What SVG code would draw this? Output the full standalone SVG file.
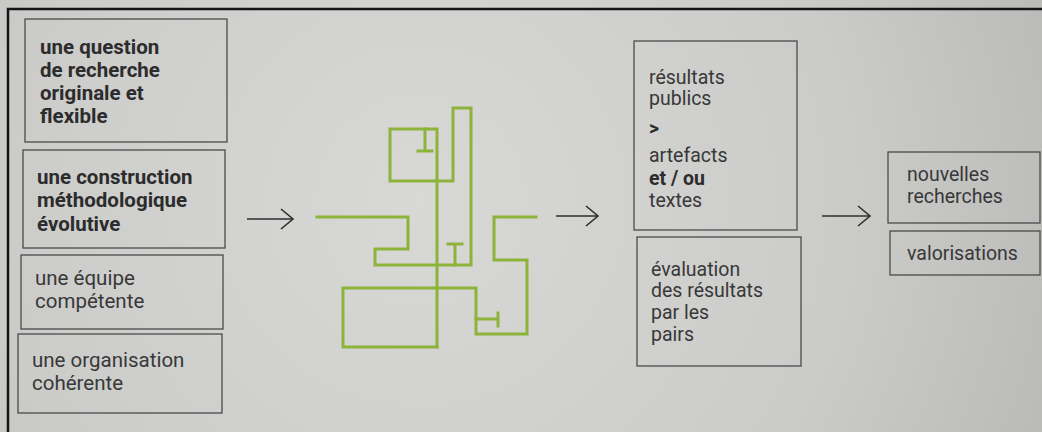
<svg xmlns="http://www.w3.org/2000/svg" width="1042" height="432" viewBox="0 0 1042 432">
  <defs>
    <radialGradient id="paper" cx="420" cy="200" r="720" gradientUnits="userSpaceOnUse">
      <stop offset="0" stop-color="#d8d8d6"/>
      <stop offset="0.6" stop-color="#cbcbc9"/>
      <stop offset="1" stop-color="#b6b6b4"/>
    </radialGradient>
    <marker id="chev" markerUnits="userSpaceOnUse" markerWidth="16" markerHeight="24" refX="13" refY="11" orient="auto">
      <path d="M1,1 L13,11 L1,21" fill="none" stroke="#2e2e2e" stroke-width="1.6"/>
    </marker>
  </defs>
  <style>
    .box { fill: none; stroke: #4b4b4b; stroke-width: 1.3; }
    .t { font-family: Roboto, "Liberation Sans", sans-serif; fill: #383838; }
    .l { font-size: 20.5px; }
    .r { font-size: 19.5px; }
    .b { font-weight: bold; fill: #2c2c2c; }
    .maze { fill: none; stroke: #8db43a; stroke-width: 3; stroke-linecap: square; stroke-linejoin: miter; }
    .arrow { stroke: #2e2e2e; stroke-width: 1.6; fill: none; marker-end: url(#chev); }
  </style>

  <!-- paper and frame -->
  <rect x="0" y="0" width="1042" height="432" fill="url(#paper)"/>
  <path d="M8,432 V9 H1042" fill="none" stroke="#151515" stroke-width="2.5"/>

  <!-- inputs -->
  <g id="question">
    <rect class="box" x="25" y="19" width="202" height="123"/>
    <text class="t l b" x="40" y="54">une question</text>
    <text class="t l b" x="40" y="77">de recherche</text>
    <text class="t l b" x="40" y="100">originale et</text>
    <text class="t l b" x="40" y="123">flexible</text>
  </g>
  <g id="construction">
    <rect class="box" x="23" y="150" width="202" height="98"/>
    <text class="t l b" x="37" y="184">une construction</text>
    <text class="t l b" x="37" y="207">méthodologique</text>
    <text class="t l b" x="37" y="231">évolutive</text>
  </g>
  <g id="equipe">
    <rect class="box" x="21" y="255" width="202" height="74"/>
    <text class="t l" x="35" y="285">une équipe</text>
    <text class="t l" x="35" y="308">compétente</text>
  </g>
  <g id="organisation">
    <rect class="box" x="18" y="334" width="204" height="79"/>
    <text class="t l" x="32" y="367">une organisation</text>
    <text class="t l" x="32" y="390">cohérente</text>
  </g>

  <!-- research process drawn as a maze -->
  <g id="maze">
    <path class="maze" d="M437,347 V129 H390 V181 H453 V108 H471 V265 H375 V249 H408 V217 H317"/>
    <path class="maze" d="M437,347 H343 V288 H476 V334 H527 V260 H494 V217 H536"/>
    <path class="maze" d="M425,129 V151 M418,151 H432"/>
    <path class="maze" d="M455,265 V244 M448,244 H462"/>
    <path class="maze" d="M476,319 H498 M498,313 V326"/>
  </g>

  <!-- outputs -->
  <g id="resultats">
    <rect class="box" x="634" y="41" width="163" height="189"/>
    <text class="t r" x="649" y="84">résultats</text>
    <text class="t r" x="649" y="105">publics</text>
    <text class="t r b" x="649" y="135">&gt;</text>
    <text class="t r" x="649" y="162">artefacts</text>
    <text class="t r b" x="649" y="185">et / ou</text>
    <text class="t r" x="649" y="207">textes</text>
  </g>
  <g id="evaluation">
    <rect class="box" x="637" y="237" width="164" height="129"/>
    <text class="t r" x="651" y="276">évaluation</text>
    <text class="t r" x="651" y="297">des résultats</text>
    <text class="t r" x="651" y="319">par les</text>
    <text class="t r" x="651" y="341">pairs</text>
  </g>
  <g id="nouvelles">
    <rect class="box" x="888" y="152" width="152" height="71"/>
    <text class="t r" x="907" y="181">nouvelles</text>
    <text class="t r" x="907" y="203">recherches</text>
  </g>
  <g id="valorisations">
    <rect class="box" x="890" y="231" width="150" height="44"/>
    <text class="t r" x="907" y="260">valorisations</text>
  </g>

  <!-- connectors -->
  <g id="connectors">
    <line class="arrow" x1="247" y1="219" x2="293" y2="219"/>
    <line class="arrow" x1="556" y1="216" x2="598" y2="216"/>
    <line class="arrow" x1="822" y1="216" x2="870" y2="216"/>
  </g>
</svg>
